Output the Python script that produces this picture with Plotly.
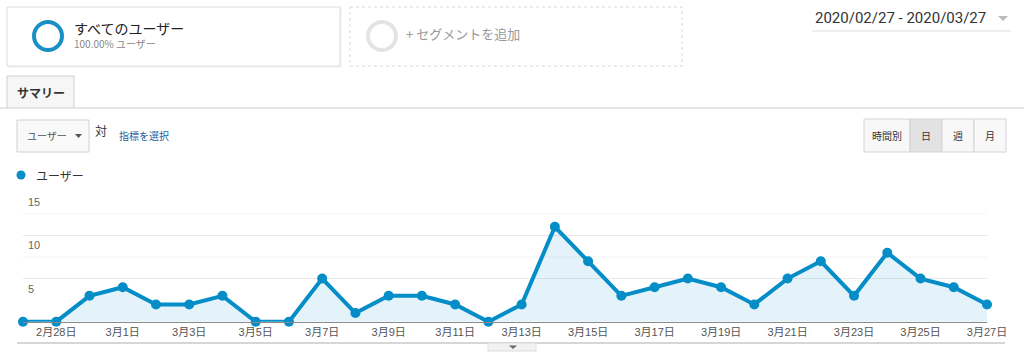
import plotly.graph_objects as go
import pandas as pd

# ---- data ----
dates = pd.date_range("2020-02-27", "2020-03-27", freq="D")
users = [0, 0, 3, 4, 2, 2, 3, 0, 0, 5, 1, 3, 3, 2, 0, 2, 11, 7, 3, 4, 5, 4, 2, 5, 7, 3, 8, 5, 4, 2]
tick_dates = ["2020-02-28", "2020-03-01", "2020-03-03", "2020-03-05", "2020-03-07", "2020-03-09",
              "2020-03-11", "2020-03-13", "2020-03-15", "2020-03-17", "2020-03-19", "2020-03-21",
              "2020-03-23", "2020-03-25", "2020-03-27"]
tick_text = ["2月28日", "3月1日", "3月3日", "3月5日", "3月7日", "3月9日", "3月11日", "3月13日",
             "3月15日", "3月17日", "3月19日", "3月21日", "3月23日", "3月25日", "3月27日"]
y_labels = [5, 10, 15]
series_name = "ユーザー"

W, H = 1024, 361
BLUE = "#058dc7"
JP = "Noto Sans CJK JP, Liberation Sans, sans-serif"
AR = "Liberation Sans, Arial, Noto Sans CJK JP, sans-serif"


def px(x):
    return x / W


def py(y):
    return 1 - y / H


fig = go.Figure()
fig.add_trace(go.Scatter(
    x=dates, y=users, mode="lines+markers", name=series_name,
    line=dict(color=BLUE, width=4), marker=dict(color=BLUE, size=10),
    fill="tozeroy", fillcolor="rgba(5,141,199,0.11)", cliponaxis=False,
    showlegend=False, hoverinfo="x+y"))

shapes = []
ann = []

# minor gridlines (7.5, 12.5)
for v in [7.5, 12.5]:
    shapes.append(dict(type="line", xref="paper", yref="y", x0=px(23), x1=px(987), y0=v, y1=v,
                       line=dict(color="#f4f4f4", width=1), layer="below"))

# y labels
for v in y_labels:
    ann.append(dict(x=px(26), y=v, xref="paper", yref="y", text=str(v), showarrow=False,
                    xanchor="left", yanchor="top", yshift=-2,
                    font=dict(family=AR, size=11, color="#666")))

# ---- UI chrome ----
# segment box 1
shapes.append(dict(type="rect", xref="paper", yref="paper", x0=px(8), x1=px(341), y0=py(8), y1=py(67),
                   line=dict(color="#ececec", width=1), fillcolor="rgba(0,0,0,0)"))
shapes.append(dict(type="rect", xref="paper", yref="paper", x0=px(7), x1=px(340), y0=py(7), y1=py(66),
                   line=dict(color="#dcdcdc", width=1), fillcolor="white"))
shapes.append(dict(type="circle", xref="paper", yref="paper", x0=px(34), x1=px(62), y0=py(22), y1=py(50),
                   line=dict(color="#1a8fc6", width=4)))
ann.append(dict(x=px(72), y=py(28), xref="paper", yref="paper", text="すべてのユーザー", showarrow=False,
                xanchor="left", yanchor="middle", font=dict(family=JP, size=14, color="#222")))
ann.append(dict(x=px(72), y=py(44), xref="paper", yref="paper", text="100.00% ユーザー", showarrow=False,
                xanchor="left", yanchor="middle", font=dict(family=JP, size=10, color="#888")))

# segment box 2 (dashed)
shapes.append(dict(type="rect", xref="paper", yref="paper", x0=px(350), x1=px(682), y0=py(7), y1=py(66),
                   line=dict(color="#d8d8d8", width=1, dash="dot"), fillcolor="white"))
shapes.append(dict(type="circle", xref="paper", yref="paper", x0=px(368), x1=px(396), y0=py(22), y1=py(50),
                   line=dict(color="#e4e4e4", width=4)))
ann.append(dict(x=px(404), y=py(33), xref="paper", yref="paper", text="+ セグメントを追加", showarrow=False,
                xanchor="left", yanchor="middle", font=dict(family=JP, size=13, color="#999")))

# date range
ann.append(dict(x=px(813), y=py(18), xref="paper", yref="paper", text="2020/02/27 - 2020/03/27",
                showarrow=False, xanchor="left", yanchor="middle",
                font=dict(family="Roboto, Liberation Sans, sans-serif", size=15, color="#333")))
shapes.append(dict(type="line", xref="paper", yref="paper", x0=px(812), x1=px(1011), y0=py(31), y1=py(31),
                   line=dict(color="#dddddd", width=1)))
shapes.append(dict(type="path", xref="paper", yref="paper",
                   path=f"M {px(998)} {py(16)} L {px(1008)} {py(16)} L {px(1003)} {py(21)} Z",
                   fillcolor="#bbbbbb", line=dict(width=0)))

# tab
shapes.append(dict(type="rect", xref="paper", yref="paper", x0=px(7), x1=px(74), y0=py(76), y1=py(108),
                   line=dict(color="#d0d0d0", width=1), fillcolor="#f6f6f6"))
shapes.append(dict(type="line", xref="paper", yref="paper", x0=px(0), x1=px(7), y0=py(108), y1=py(108),
                   line=dict(color="#cccccc", width=1)))
shapes.append(dict(type="line", xref="paper", yref="paper", x0=px(74), x1=px(1024), y0=py(108), y1=py(108),
                   line=dict(color="#cccccc", width=1)))
ann.append(dict(x=px(15), y=py(92), xref="paper", yref="paper", text="<b>サマリー</b>", showarrow=False,
                xanchor="left", yanchor="middle", font=dict(family=JP, size=12, color="#333")))

# metric dropdown
shapes.append(dict(type="rect", xref="paper", yref="paper", x0=px(17), x1=px(89), y0=py(120), y1=py(152),
                   line=dict(color="#d0d0d0", width=1), fillcolor="#f9f9f9"))
ann.append(dict(x=px(25), y=py(136), xref="paper", yref="paper", text="ユーザー", showarrow=False,
                xanchor="left", yanchor="middle", font=dict(family=JP, size=10, color="#555")))
shapes.append(dict(type="path", xref="paper", yref="paper",
                   path=f"M {px(75)} {py(134)} L {px(82)} {py(134)} L {px(78.5)} {py(138)} Z",
                   fillcolor="#555", line=dict(width=0)))
ann.append(dict(x=px(93), y=py(130), xref="paper", yref="paper", text="対", showarrow=False,
                xanchor="left", yanchor="middle", font=dict(family=JP, size=12, color="#333")))
ann.append(dict(x=px(117), y=py(136), xref="paper", yref="paper", text="指標を選択", showarrow=False,
                xanchor="left", yanchor="middle", font=dict(family=JP, size=10, color="#1f5c99")))

# period buttons
btns = [("時間別", 864, 910), ("日", 910, 942), ("週", 942, 974), ("月", 974, 1006)]
for i, (lbl, a, b) in enumerate(btns):
    shapes.append(dict(type="rect", xref="paper", yref="paper", x0=px(a), x1=px(b), y0=py(119), y1=py(152),
                       line=dict(color="#d4d4d4", width=1),
                       fillcolor="#e2e2e2" if lbl == "日" else "#f8f8f8"))
    ann.append(dict(x=px((a + b) / 2), y=py(136), xref="paper", yref="paper", text=lbl, showarrow=False,
                    xanchor="center", yanchor="middle", font=dict(family=JP, size=10, color="#333")))

# legend
shapes.append(dict(type="circle", xref="paper", yref="paper", x0=px(16.5), x1=px(25.5), y0=py(170.5),
                   y1=py(179.5), fillcolor=BLUE, line=dict(width=0)))
ann.append(dict(x=px(34), y=py(175), xref="paper", yref="paper", text=series_name, showarrow=False,
                xanchor="left", yanchor="middle", font=dict(family=JP, size=12, color="#333")))

# bottom line and handle
shapes.append(dict(type="line", xref="paper", yref="paper", x0=px(17), x1=px(1005), y0=py(343), y1=py(343),
                   line=dict(color="#d6d6d6", width=2)))
shapes.append(dict(type="rect", xref="paper", yref="paper", x0=px(488), x1=px(536), y0=py(343), y1=py(351),
                   line=dict(color="#dddddd", width=1), fillcolor="#f1f1f1"))
shapes.append(dict(type="path", xref="paper", yref="paper",
                   path=f"M {px(509)} {py(345.5)} L {px(517)} {py(345.5)} L {px(513)} {py(349)} Z",
                   fillcolor="#666", line=dict(width=0)))

fig.update_layout(
    width=W, height=H, margin=dict(l=0, r=0, t=0, b=0, autoexpand=False),
    paper_bgcolor="white", plot_bgcolor="white",
    shapes=shapes, annotations=ann,
    xaxis=dict(domain=[px(23), px(987)], range=[dates[0], dates[-1]], type="date", automargin=False,
               tickvals=pd.to_datetime(tick_dates), ticktext=tick_text, ticks="",
               showgrid=False, zeroline=False, showline=True, linecolor="#8a8a8a", linewidth=1,
               tickfont=dict(family=AR, size=11, color="#555"), fixedrange=True),
    yaxis=dict(domain=[py(321.7), py(192.3)], range=[0, 15], tickvals=[0, 5, 10, 15], automargin=False,
               showticklabels=False, showgrid=True, gridcolor="#e9e9e9", gridwidth=1,
               zeroline=False, fixedrange=True),
)

fig.write_html(
    "out.html",
    config={"displayModeBar": False, "responsive": False},
    post_script="document.body.style.margin='0';document.body.style.overflow='hidden';",
)
